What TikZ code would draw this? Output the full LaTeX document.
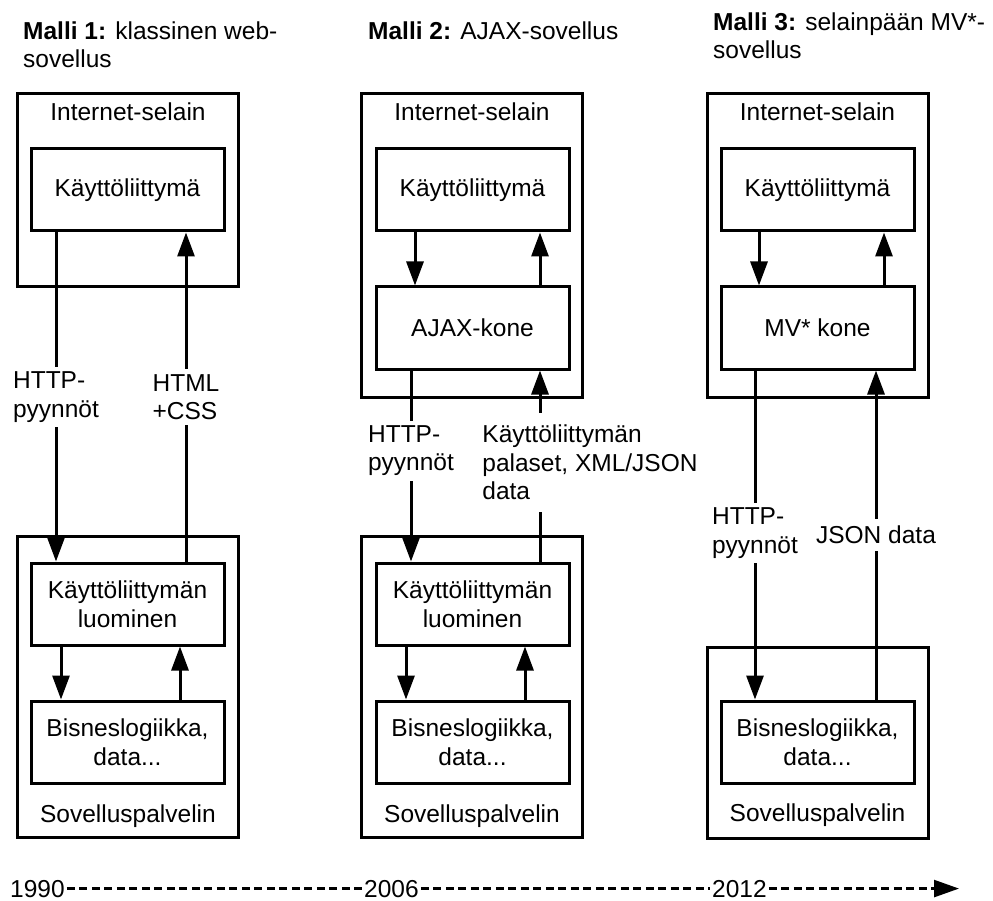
\documentclass[tikz,border=0pt]{standalone}
\usepackage{fontspec}
\setmainfont{Liberation Sans}
\usetikzlibrary{arrows.meta}

\begin{document}
\begin{tikzpicture}[
    x=1pt, y=-1pt,
    font=\fontsize{24.5}{28.5}\selectfont,
    container/.style={rectangle, draw=black, line width=3pt, minimum width=221pt},
    module/.style={rectangle, draw=black, line width=3pt, minimum width=193pt, minimum height=82pt, align=center, inner sep=2pt},
    caption/.style={anchor=base, inner sep=0pt},
    heading/.style={anchor=north west, align=left, inner sep=0pt},
    tag/.style={fill=white, align=left, inner xsep=3pt, inner ysep=5pt},
    flow/.style={-{Triangle[length=24pt, width=17pt]}, draw=black, line width=3pt},
    timeline/.style={draw=black, line width=2.5pt, dash pattern=on 8pt off 4.5pt},
    year/.style={anchor=base west, inner sep=2pt}
]
    \useasboundingbox (0,0) rectangle (993,901);

    % titles
    \node[heading] (title1) at (23,21.5) {\textbf{Malli 1:} klassinen web-\\sovellus};
    \node[heading] (title2) at (368,21.5) {\textbf{Malli 2:} AJAX-sovellus};
    \node[heading] (title3) at (713,12.5) {\textbf{Malli 3:} selainpään MV*-\\sovellus};

    % browsers
    \node[container, minimum height=193pt] (browser1) at (128,190.5) {};
    \node[container, minimum height=303pt] (browser2) at (472,245.5) {};
    \node[container, minimum height=303pt] (browser3) at (817.5,245.5) {};
    \node[caption] (browsertext1) at (128,121) {Internet-selain};
    \node[caption] (browsertext2) at (472,121) {Internet-selain};
    \node[caption] (browsertext3) at (817.5,121) {Internet-selain};

    \node[module] (ui1) at (127.5,190) {Käyttöliittymä};
    \node[module] (ui2) at (472.5,190) {Käyttöliittymä};
    \node[module] (ajax2) at (472.5,328) {AJAX-kone};
    \node[module] (ui3) at (817.5,190) {Käyttöliittymä};
    \node[module] (mv3) at (817.5,328) {MV* kone};

    % servers
    \node[container, minimum height=301pt] (server1) at (128,686.5) {};
    \node[container, minimum height=301pt] (server2) at (472,686.5) {};
    \node[container, minimum height=191pt] (server3) at (817.5,742.5) {};
    \node[caption] (servertext1) at (128,822) {Sovelluspalvelin};
    \node[caption] (servertext2) at (472,822) {Sovelluspalvelin};
    \node[caption] (servertext3) at (817.5,821) {Sovelluspalvelin};

    \node[module] (gen1) at (127.5,604) {Käyttöliittymän\\luominen};
    \node[module] (biz1) at (127.5,742) {Bisneslogiikka,\\data...};
    \node[module] (gen2) at (472.5,604) {Käyttöliittymän\\luominen};
    \node[module] (biz2) at (472.5,742) {Bisneslogiikka,\\data...};
    \node[module] (biz3) at (817.5,742) {Bisneslogiikka,\\data...};

    % model 1
    \draw[flow] ([xshift=-71.5pt]ui1.south) -- node[tag] (req1) {HTTP-\\pyynnöt} ([xshift=-71.5pt]gen1.north);
    \draw[flow] ([xshift=58.5pt]gen1.north) -- node[tag] (resp1) {HTML\\+CSS} ([xshift=58.5pt]ui1.south);
    \draw[flow] ([xshift=-66.5pt]gen1.south) -- ([xshift=-66.5pt]biz1.north);
    \draw[flow] ([xshift=52.5pt]biz1.north) -- ([xshift=52.5pt]gen1.south);

    % model 2
    \draw[flow] ([xshift=-57.5pt]ui2.south) -- ([xshift=-57.5pt]ajax2.north);
    \draw[flow] ([xshift=67.5pt]ajax2.north) -- ([xshift=67.5pt]ui2.south);
    \draw[flow] ([xshift=-61.5pt]ajax2.south) -- node[tag, pos=.42] (req2) {HTTP-\\pyynnöt} ([xshift=-61.5pt]gen2.north);
    \draw[flow] ([xshift=67.5pt]gen2.north) -- node[tag, pos=.518, xshift=50pt, inner ysep=12pt] (resp2) {Käyttöliittymän\\palaset, XML/JSON\\data} ([xshift=67.5pt]ajax2.south);
    \draw[flow] ([xshift=-66.5pt]gen2.south) -- ([xshift=-66.5pt]biz2.north);
    \draw[flow] ([xshift=52.5pt]biz2.north) -- ([xshift=52.5pt]gen2.south);

    % model 3
    \draw[flow] ([xshift=-58.5pt]ui3.south) -- ([xshift=-58.5pt]mv3.north);
    \draw[flow] ([xshift=66.5pt]mv3.north) -- ([xshift=66.5pt]ui3.south);
    \draw[flow] ([xshift=-62.5pt]mv3.south) -- node[tag, pos=.494] (req3) {HTTP-\\pyynnöt} ([xshift=-62.5pt]biz3.north);
    \draw[flow] ([xshift=58.5pt]biz3.north) -- node[tag, inner ysep=7pt] (resp3) {JSON data} ([xshift=58.5pt]mv3.south);

    % timeline
    \node[year] (y1990) at (8,897) {1990};
    \node[year] (y2006) at (362,897) {2006};
    \node[year] (y2012) at (710,897) {2012};
    \coordinate (tend) at (959,888);
    \draw[timeline] (y1990) -- (y2006);
    \draw[timeline] (y2006) -- (y2012);
    \draw[timeline, -{Triangle[length=25pt, width=17pt]}] (y2012) -- (y2012 -| tend);

\end{tikzpicture}
\end{document}
